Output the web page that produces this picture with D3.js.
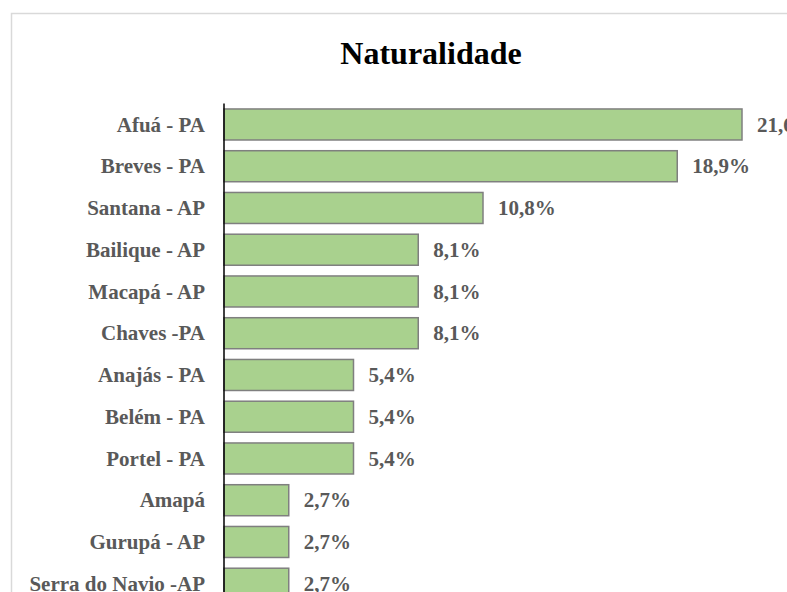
<!DOCTYPE html>
<html><head><meta charset="utf-8">
<script src="https://cdn.jsdelivr.net/npm/d3@7"></script>
<style>html,body{margin:0;padding:0;background:#fff;overflow:hidden}</style>
</head><body>
<script>
const categories = ["Afuá - PA","Breves - PA","Santana - AP","Bailique - AP","Macapá - AP","Chaves -PA","Anajás - PA","Belém - PA","Portel - PA","Amapá","Gurupá - AP","Serra do Navio -AP"];
const values = [21.6,18.9,10.8,8.1,8.1,8.1,5.4,5.4,5.4,2.7,2.7,2.7];
const valueLabels = ["21,6%","18,9%","10,8%","8,1%","8,1%","8,1%","5,4%","5,4%","5,4%","2,7%","2,7%","2,7%"];
const title = "Naturalidade";

const W = 787, H = 592;
const svg = d3.select("body").append("svg").attr("width", W).attr("height", H);

svg.append("path").attr("d", `M11.5,${H + 10}V13.5H${W + 10}`)
  .attr("fill", "none").attr("stroke", "#d9d9d9").attr("stroke-width", 1.5);

const font = "'Liberation Serif', 'Times New Roman', serif";
svg.append("text").attr("x", 431).attr("y", 64).attr("text-anchor", "middle")
  .attr("font-family", font).attr("font-weight", "bold")
  .attr("font-size", 32).attr("fill", "#000").text(title);

const x0 = 224;
const x = d3.scaleLinear().domain([0, 21.6]).range([x0, 742]);
const step = 41.75;
const y = d3.scaleBand().domain(categories).range([103.6, 103.6 + step * categories.length])
  .paddingInner(0.257).paddingOuter(0.1285);

const g = svg.append("g");
g.selectAll("rect.bar").data(values).join("rect").attr("class", "bar")
  .attr("x", x(0)).attr("y", (d, i) => y(categories[i]))
  .attr("width", d => x(d) - x(0)).attr("height", y.bandwidth())
  .attr("fill", "#a9d18e").attr("stroke", "#7f7f7f").attr("stroke-width", 1.5);

g.selectAll("text.val").data(values).join("text").attr("class", "val")
  .attr("x", d => x(d) + 15).attr("y", (d, i) => y(categories[i]) + y.bandwidth() / 2)
  .attr("dy", "0.34em").attr("font-family", font).attr("font-weight", "bold")
  .attr("font-size", 21).attr("fill", "#595959").text((d, i) => valueLabels[i]);

const axis = d3.axisLeft(y).tickSize(0).tickPadding(19);
const ag = svg.append("g").attr("transform", `translate(${x0},0)`).call(axis);
ag.select(".domain").attr("stroke", "#000").attr("stroke-width", 1.5)
  .attr("d", `M0,${103.6}V${H + 20}`);
ag.selectAll(".tick text").attr("dy", "0.34em").attr("font-family", font).attr("font-weight", "bold")
  .attr("font-size", 21).attr("fill", "#595959");
</script>
</body></html>
